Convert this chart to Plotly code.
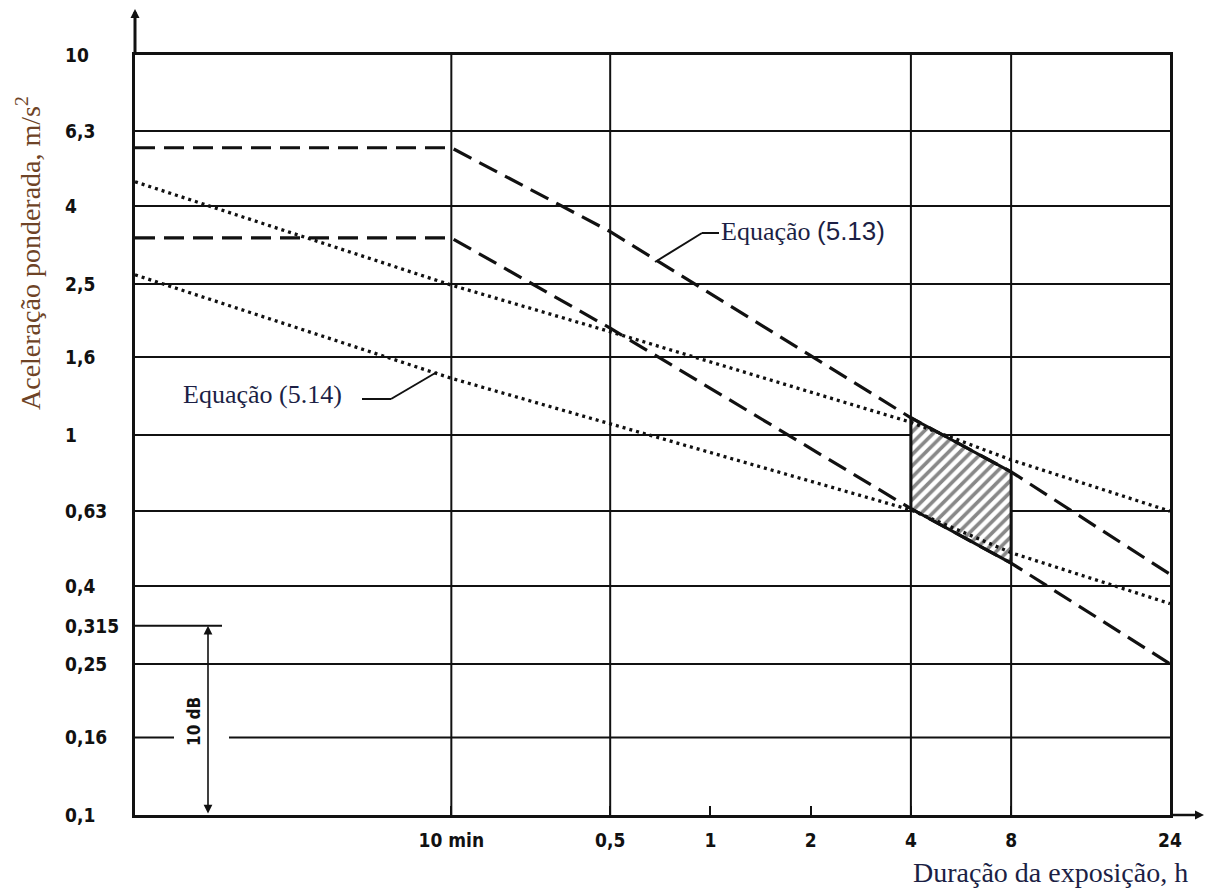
import math
import plotly.graph_objects as go

# ---- data -----------------------------------------------------------------
# exposure duration (h) at which each limit curve is sampled
T_AXIS_MIN = 0.0187                      # left edge of the time axis (~1.1 min)
T_POINTS = [T_AXIS_MIN, 1 / 6, 0.5, 4, 8, 24]

# Equação (5.13): a·T^(1/2) = const  -> upper / lower limits, m/s²
EQ13_UPPER = [5.7, 5.7, 3.43, 1.11, 0.80, 0.43]
EQ13_LOWER = [3.3, 3.3, 1.91, 0.64, 0.46, 0.25]

# Equação (5.14): a·T^(1/4) = const  -> upper / lower limits, m/s²
EQ14_UPPER = [4.64, 2.48, 1.87, 1.08, 0.86, 0.63]
EQ14_LOWER = [2.64, 1.41, 1.07, 0.635, 0.49, 0.36]

# hatched caution zone between 4 h and 8 h
ZONE_T = [4, 8]

X_TICKS = [1 / 6, 0.5, 1, 2, 4, 8, 24]
X_TICK_TEXT = ["10 min", "0,5", "1", "2", "4", "8", "24"]
X_GRID = [1 / 6, 0.5, 4, 8]

Y_TICKS = [0.1, 0.16, 0.25, 0.315, 0.4, 0.63, 1, 1.6, 2.5, 4, 6.3, 10]
Y_TICK_TEXT = ["0,1", "0,16", "0,25", "0,315", "0,4", "0,63", "1", "1,6",
               "2,5", "4", "6,3", "10"]
Y_GRID = [0.25, 0.4, 0.63, 1, 1.6, 2.5, 4, 6.3, 10]
DB_SPAN = [0.1, 0.315]                   # 10 dB dimension

# ---- layout geometry ------------------------------------------------------
W, H = 1205, 891
ML, MR, MT, MB = 135, 35, 55, 76
PW, PH = W - ML - MR, H - MT - MB
Y_MIN, Y_MAX = Y_TICKS[0], Y_TICKS[-1]


def xp(px):
    """pixel column -> paper x"""
    return (px - ML) / PW


def yp(py):
    """pixel row -> paper y"""
    return (H - MB - py) / PH


def yv(v):
    """value on the log y axis -> paper y"""
    return (math.log10(v) - math.log10(Y_MIN)) / (math.log10(Y_MAX) - math.log10(Y_MIN))


SERIF = "Liberation Serif"
SANS = "DejaVu Sans Condensed, DejaVu Sans"
INK = "#111111"
TITLE_BROWN = "#6e4326"
TEXT_NAVY = "#1c1f45"
TICK_FONT = dict(family=SANS, size=19, color=INK, weight=600)

fig = go.Figure()

# vertical grid columns
gx, gy = [], []
for t in X_GRID:
    gx += [t, t, None]
    gy += [Y_MIN, Y_MAX, None]
fig.add_trace(go.Scatter(x=gx, y=gy, mode="lines",
                         line=dict(color=INK, width=2), hoverinfo="skip"))

# hatched zone between the (5.13) limits from 4 h to 8 h
i0, i1 = T_POINTS.index(ZONE_T[0]), T_POINTS.index(ZONE_T[1])
zone_x = [ZONE_T[0], ZONE_T[1], ZONE_T[1], ZONE_T[0], ZONE_T[0]]
zone_y = [EQ13_UPPER[i0], EQ13_UPPER[i1], EQ13_LOWER[i1], EQ13_LOWER[i0], EQ13_UPPER[i0]]
fig.add_trace(go.Scatter(
    x=zone_x, y=zone_y, mode="lines", fill="toself",
    fillcolor="rgba(0,0,0,0)",
    fillpattern=dict(shape="/", fgcolor=INK, bgcolor="white", size=8, solidity=0.45),
    line=dict(color=INK, width=3), hoverinfo="skip"))

# Equação (5.14) - dotted
for ys in (EQ14_UPPER, EQ14_LOWER):
    fig.add_trace(go.Scatter(x=T_POINTS, y=ys, mode="lines",
                             line=dict(color=INK, width=3.3, dash="3px,4px"),
                             hoverinfo="skip"))

# Equação (5.13) - dashed
for ys in (EQ13_UPPER, EQ13_LOWER):
    fig.add_trace(go.Scatter(x=T_POINTS, y=ys, mode="lines",
                             line=dict(color=INK, width=3.2, dash="20px,9px"),
                             hoverinfo="skip"))

shapes = []
# partial reference lines at 0,315 and 0,16
shapes.append(dict(type="line", xref="paper", yref="paper",
                   x0=0, x1=xp(222), y0=yv(0.315), y1=yv(0.315),
                   line=dict(color=INK, width=2)))
shapes.append(dict(type="line", xref="paper", yref="paper",
                   x0=0, x1=xp(174), y0=yv(0.16), y1=yv(0.16),
                   line=dict(color=INK, width=2)))
shapes.append(dict(type="line", xref="paper", yref="paper",
                   x0=xp(229), x1=1, y0=yv(0.16), y1=yv(0.16),
                   line=dict(color=INK, width=2)))
# axis extensions beyond the plot frame
shapes.append(dict(type="line", xref="paper", yref="paper",
                   x0=0, x1=0, y0=1, y1=yp(12), line=dict(color=INK, width=3)))
shapes.append(dict(type="line", xref="paper", yref="paper",
                   x0=1, x1=xp(1200), y0=0, y1=0, line=dict(color=INK, width=2.5)))
# leader lines to the curve labels
shapes.append(dict(type="line", xref="paper", yref="paper",
                   x0=xp(702), y0=yp(233), x1=xp(719), y1=yp(233),
                   line=dict(color=INK, width=2)))
shapes.append(dict(type="line", xref="paper", yref="paper",
                   x0=xp(702), y0=yp(233), x1=xp(655), y1=yp(262),
                   line=dict(color=INK, width=2)))
shapes.append(dict(type="line", xref="paper", yref="paper",
                   x0=xp(362), y0=yp(399), x1=xp(391), y1=yp(399),
                   line=dict(color=INK, width=2)))
shapes.append(dict(type="line", xref="paper", yref="paper",
                   x0=xp(391), y0=yp(399), x1=xp(437), y1=yp(372),
                   line=dict(color=INK, width=2)))

annotations = []
# y tick labels, left aligned
for v, txt in zip(Y_TICKS, Y_TICK_TEXT):
    annotations.append(dict(x=xp(63), xref="paper", xanchor="left",
                            y=math.log10(v), yref="y", yanchor="middle",
                            text=txt, showarrow=False, font=TICK_FONT))

# 10 dB dimension arrow
annotations.append(dict(x=xp(208), xref="paper", y=yv(DB_SPAN[1]), yref="paper",
                        ax=0, ay=(yv(DB_SPAN[1]) - yv(DB_SPAN[0])) * PH,
                        axref="pixel", ayref="pixel",
                        showarrow=True, arrowside="end+start", arrowhead=2,
                        arrowsize=1.1, arrowwidth=1.6, arrowcolor=INK, text=""))
annotations.append(dict(x=xp(194), xref="paper", xanchor="center",
                        y=yp(722), yref="paper", yanchor="middle",
                        text="10 dB", textangle=-90, showarrow=False,
                        font=dict(family=SANS, size=17, color=INK, weight=600)))

# axis arrowheads
annotations.append(dict(x=0, xref="paper", y=yp(9), yref="paper",
                        ax=0, ay=18, axref="pixel", ayref="pixel",
                        showarrow=True, arrowhead=2, arrowsize=0.9, arrowwidth=2,
                        arrowcolor=INK, text=""))
annotations.append(dict(x=xp(1204), xref="paper", y=0, yref="paper",
                        ax=-18, ay=0, axref="pixel", ayref="pixel",
                        showarrow=True, arrowhead=2, arrowsize=0.9, arrowwidth=2,
                        arrowcolor=INK, text=""))

# curve labels
annotations.append(dict(x=xp(719), xref="paper", xanchor="left",
                        y=yp(231), yref="paper", yanchor="middle", showarrow=False,
                        text="Equação <span style=\"font-family:Liberation Sans\">(5.13)</span>",
                        font=dict(family=SERIF, size=26, color=TEXT_NAVY)))
annotations.append(dict(x=xp(181), xref="paper", xanchor="left",
                        y=yp(395), yref="paper", yanchor="middle", showarrow=False,
                        text="Equação (5.14)",
                        font=dict(family=SERIF, size=26, color=TEXT_NAVY)))

# axis titles
annotations.append(dict(x=xp(28), xref="paper", xanchor="center",
                        y=yp(253), yref="paper", yanchor="middle", showarrow=False,
                        textangle=-90, text="Aceleração ponderada, m/s<sup>2</sup>",
                        font=dict(family=SERIF, size=28, color=TITLE_BROWN)))
annotations.append(dict(x=xp(1190), xref="paper", xanchor="right",
                        y=yp(873), yref="paper", yanchor="middle", showarrow=False,
                        text="Duração da exposição, h",
                        font=dict(family=SERIF, size=28, color=TEXT_NAVY)))

fig.update_layout(
    width=W, height=H,
    margin=dict(l=ML, r=MR, t=MT, b=MB, pad=0),
    paper_bgcolor="white", plot_bgcolor="white",
    showlegend=False,
    shapes=shapes, annotations=annotations,
    xaxis=dict(type="log",
               range=[math.log10(T_AXIS_MIN), math.log10(24)],
               tickvals=X_TICKS, ticktext=X_TICK_TEXT,
               ticks="inside", ticklen=9, tickwidth=2, tickcolor=INK,
               ticklabelstandoff=6,
               tickfont=TICK_FONT,
               showgrid=False, zeroline=False,
               showline=True, linecolor=INK, linewidth=2.5, mirror=True),
    yaxis=dict(type="log", range=[-1, 1],
               tickvals=Y_GRID, showticklabels=False, ticks="",
               showgrid=True, gridcolor=INK, gridwidth=2, zeroline=False,
               showline=True, linecolor=INK, linewidth=3, mirror=True),
)

fig.write_html("out.html")
